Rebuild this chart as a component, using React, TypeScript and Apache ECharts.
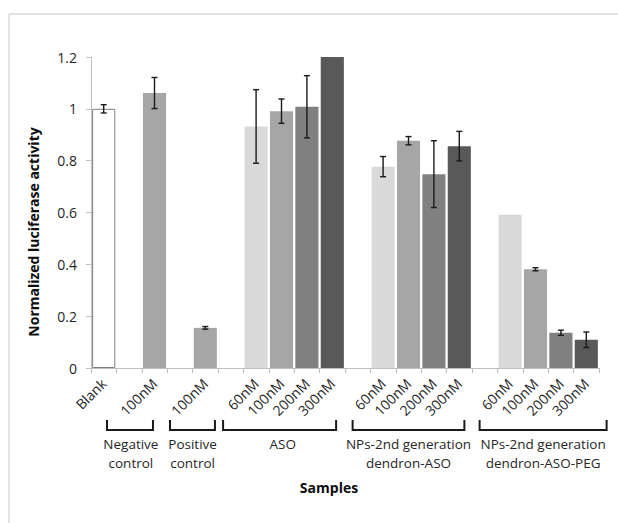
import React, { useEffect, useRef } from "react";
import * as echarts from "echarts";

const categories = ["Blank", "", "100nM", "", "100nM", "", "60nM", "100nM", "200nM", "300nM", "", "60nM", "100nM", "200nM", "300nM", "", "60nM", "100nM", "200nM", "300nM"];
const values = [1.0, null, 1.061, null, 0.155, null, 0.932, 0.991, 1.008, 1.2, null, 0.777, 0.877, 0.748, 0.856, null, 0.591, 0.381, 0.136, 0.109];
const errors = [0.016, null, 0.06, null, 0.005, null, 0.142, 0.047, 0.12, null, null, 0.039, 0.016, 0.129, 0.057, null, null, 0.006, 0.01, 0.03];
const yTicks = [0, 0.2, 0.4, 0.6, 0.8, 1, 1.2];
const groupNames: string[][] = [
  ["Negative", "control"],
  ["Positive", "control"],
  ["ASO"],
  ["NPs-2nd generation", "dendron-ASO"],
  ["NPs-2nd generation", "dendron-ASO-PEG"],
];
// bracket spans in category-band units (left, right, text centre)
const groupSpans: [number, number, number][] = [
  [0.63, 2.44, 1.57],
  [3.11, 4.88, 4.0],
  [5.2, 9.65, 7.55],
  [10.3, 14.7, 12.5],
  [15.3, 20.3, 17.8],
];

const FONT = "'Open Sans', sans-serif";
const colorFor = (i: number) => {
  const lab = categories[i];
  if (i === 0) return "#ffffff";
  if (i === 2 || i === 4) return "#a6a6a6";
  if (lab === "60nM") return "#d9d9d9";
  if (lab === "100nM") return "#a6a6a6";
  if (lab === "200nM") return "#808080";
  return "#595959";
};

export default function App() {
  const ref = useRef<HTMLDivElement>(null);
  useEffect(() => {
    const chart = echarts.init(ref.current!, undefined, { renderer: "svg" });
    const barData = values.map((v, i) =>
      v == null
        ? null
        : {
            value: v,
            itemStyle: {
              color: colorFor(i),
              borderColor: i === 0 ? "#7f7f7f" : "transparent",
              borderWidth: i === 0 ? 1 : 0,
            },
          }
    );
    const errData = values.map((v, i) => [i, v, errors[i]]);
    const gridLeft = 91, gridRight = 19, gridTop = 57, gridBottom = 155;
    chart.setOption({
      animation: false,
      grid: { left: gridLeft, right: gridRight, top: gridTop, bottom: gridBottom },
      xAxis: {
        type: "category",
        data: categories,
        axisLine: { lineStyle: { color: "#bfbfbf", width: 1 } },
        axisTick: { show: true, length: 5, interval: 0, lineStyle: { color: "#bfbfbf" } },
        axisLabel: { interval: 0, rotate: 45, margin: 13, fontSize: 14, color: "#262626", fontFamily: FONT },
      },
      yAxis: {
        type: "value",
        min: yTicks[0],
        max: yTicks[yTicks.length - 1],
        interval: 0.2,
        splitLine: { show: false },
        axisLine: { show: true, lineStyle: { color: "#bfbfbf", width: 1 } },
        axisTick: { show: true, length: 5, lineStyle: { color: "#bfbfbf" } },
        axisLabel: { fontSize: 14, color: "#262626", fontFamily: FONT, margin: 14 },
      },
      series: [
        {
          type: "bar",
          data: barData,
          barCategoryGap: "9%",
        },
        {
          type: "custom",
          data: errData,
          encode: { x: 0, y: 1 },
          z: 5,
          renderItem: (params: any, api: any) => {
            const idx = api.value(0);
            const v = api.value(1);
            const e = api.value(2);
            if (v == null || e == null || isNaN(e) || isNaN(v)) return null;
            const top = api.coord([idx, v + e]);
            const bot = api.coord([idx, v - e]);
            const cap = 3;
            const style = { stroke: "#1a1a1a", lineWidth: 1.4 };
            return {
              type: "group",
              children: [
                { type: "line", shape: { x1: top[0], y1: top[1], x2: bot[0], y2: bot[1] }, style },
                { type: "line", shape: { x1: top[0] - cap, y1: top[1], x2: top[0] + cap, y2: top[1] }, style },
                { type: "line", shape: { x1: bot[0] - cap, y1: bot[1], x2: bot[0] + cap, y2: bot[1] }, style },
              ],
            };
          },
        },
      ],
    });

    const x0 = chart.convertToPixel({ xAxisIndex: 0 }, 0) as number;
    const x1 = chart.convertToPixel({ xAxisIndex: 0 }, 1) as number;
    const band = x1 - x0;
    const start = x0 - band / 2;
    const ux = (u: number) => start + u * band;
    const bTop = 420, bBot = 430;
    const graphics: any[] = [
      { type: "line", shape: { x1: 9, y1: 14, x2: 618, y2: 14 }, style: { stroke: "#e2e2e2", lineWidth: 2 } },
      { type: "line", shape: { x1: 9, y1: 14, x2: 9, y2: 523 }, style: { stroke: "#e2e2e2", lineWidth: 2 } },
      {
        type: "text",
        x: 33,
        y: 232,
        rotation: Math.PI / 2,
        style: {
          text: "Normalized luciferase activity",
          font: `bold 14px ${FONT}`,
          fill: "#0d0d0d",
          textAlign: "center",
          textVerticalAlign: "middle",
        },
      },
      {
        type: "text",
        x: 329,
        y: 487,
        style: {
          text: "Samples",
          font: `bold 14px ${FONT}`,
          fill: "#0d0d0d",
          textAlign: "center",
          textVerticalAlign: "middle",
        },
      },
    ];
    groupSpans.forEach(([l, r, c], gi) => {
      const xl = ux(l), xr = ux(r);
      graphics.push({
        type: "polyline",
        shape: { points: [[xl, bTop], [xl, bBot], [xr, bBot], [xr, bTop]] },
        style: { stroke: "#1a1a1a", lineWidth: 2, fill: null },
      });
      groupNames[gi].forEach((line, li) => {
        graphics.push({
          type: "text",
          x: ux(c),
          y: 444 + li * 18.5,
          style: {
            text: line,
            font: `13.5px ${FONT}`,
            fill: "#262626",
            textAlign: "center",
            textVerticalAlign: "middle",
          },
        });
      });
    });
    chart.setOption({ graphic: graphics });
    return () => chart.dispose();
  }, []);
  return <div ref={ref} style={{ position: "absolute", left: 0, top: 0, width: 618, height: 523, background: "#fff" }} />;
}
